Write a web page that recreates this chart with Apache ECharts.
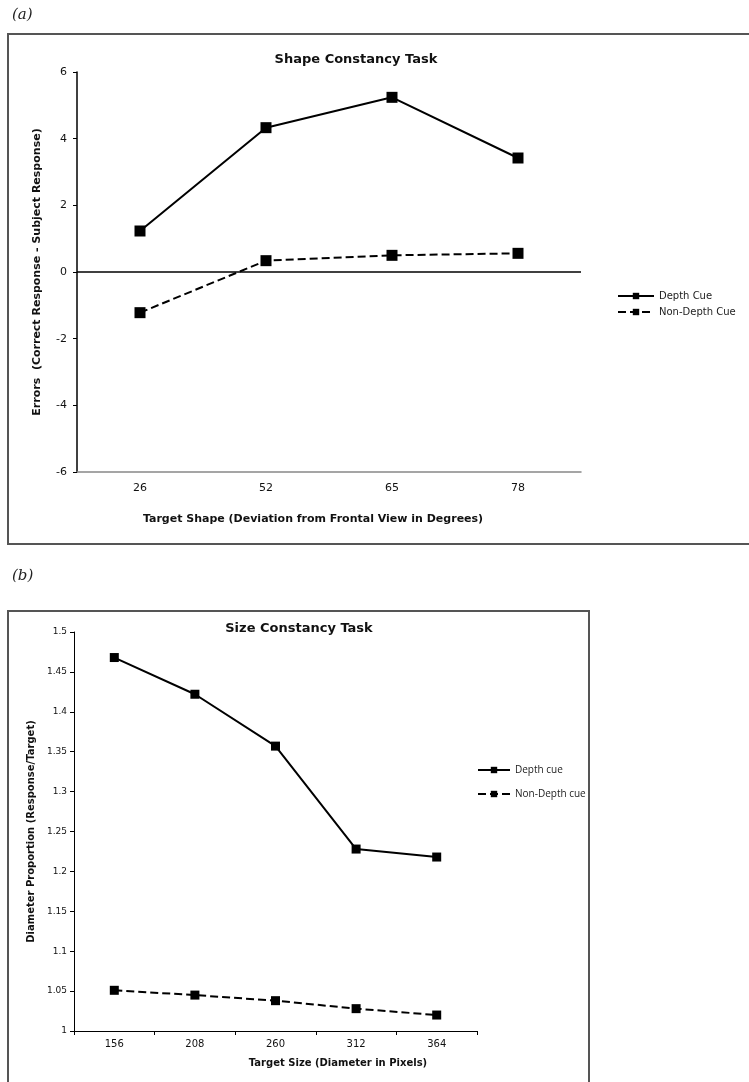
<!DOCTYPE html>
<html>
<head>
<meta charset="utf-8">
<script src="https://cdn.jsdelivr.net/npm/echarts@6/dist/echarts.min.js"></script>
<style>
  html, body { margin: 0; padding: 0; background: #fff; }
  #main { width: 749px; height: 1082px; }
</style>
</head>
<body>
<div id="main"></div>
<script>
// panel (a): shape constancy
var shapeCats = ['26', '52', '65', '78'];
var shapeDepth = [1.23, 4.33, 5.24, 3.42];
var shapeNonDepth = [-1.22, 0.34, 0.50, 0.56];

// panel (b): size constancy
var sizeCats = ['156', '208', '260', '312', '364'];
var sizeDepth = [1.468, 1.422, 1.357, 1.228, 1.218];
var sizeNonDepth = [1.051, 1.045, 1.038, 1.028, 1.020];

var myChart = echarts.init(document.getElementById('main'));

var font = 'DejaVu Sans, Verdana, sans-serif';

function lineSeries(name, data, axis, dashed, symSize, width) {
    return {
        name: name,
        type: 'line',
        xAxisIndex: axis,
        yAxisIndex: axis,
        data: data,
        symbol: 'rect',
        symbolSize: symSize,
        showAllSymbol: true,
        silent: true,
        itemStyle: { color: '#000' },
        lineStyle: { color: '#000', width: width, type: dashed ? [8, 4] : 'solid' }
    };
}

var option = {
    animation: false,
    backgroundColor: '#fff',
    grid: [
        { left: 77, right: 168, top: 72, bottom: 610 },
        { left: 74, right: 272, top: 632, bottom: 51 }
    ],
    legend: [
        {
            data: ['Depth Cue', 'Non-Depth Cue'],
            orient: 'vertical',
            left: 612, top: 286,
            itemWidth: 36, itemHeight: 8, itemGap: 6,
            textStyle: { fontFamily: font, fontSize: 10, color: '#222' }
        },
        {
            data: ['Depth cue', 'Non-Depth cue'],
            orient: 'vertical',
            left: 472, top: 760,
            itemWidth: 32, itemHeight: 8, itemGap: 14,
            textStyle: { fontFamily: 'Open Sans, sans-serif', fontSize: 10, color: '#222' }
        }
    ],
    xAxis: [
        {
            gridIndex: 0,
            type: 'category',
            data: shapeCats,
            axisLine: { onZero: false, lineStyle: { color: '#888', width: 1.5 } },
            axisTick: { show: false },
            axisLabel: { color: '#111', fontFamily: font, fontSize: 11, margin: 11 }
        },
        {
            gridIndex: 1,
            type: 'category',
            data: sizeCats,
            axisLine: { lineStyle: { color: '#000', width: 1 } },
            axisTick: { show: true, length: 4, lineStyle: { color: '#000' } },
            axisLabel: { color: '#111', fontFamily: font, fontSize: 10, margin: 8 }
        }
    ],
    yAxis: [
        {
            gridIndex: 0,
            type: 'value',
            min: -6, max: 6, interval: 2,
            name: 'Errors  (Correct Response - Subject Response)',
            nameLocation: 'middle',
            nameGap: 34,
            nameTextStyle: { fontFamily: font, fontWeight: 'bold', fontSize: 11, color: '#111' },
            axisLine: { show: true, lineStyle: { color: '#000', width: 1.5 } },
            axisTick: { show: true, length: 4, lineStyle: { color: '#000' } },
            axisLabel: { color: '#111', fontFamily: font, fontSize: 11, margin: 10 },
            splitLine: { show: false }
        },
        {
            gridIndex: 1,
            type: 'value',
            min: 1, max: 1.5, interval: 0.05,
            name: 'Diameter Proportion (Response/Target)',
            nameLocation: 'middle',
            nameGap: 37,
            nameTextStyle: { fontFamily: font, fontWeight: 'bold', fontSize: 10, color: '#111' },
            axisLine: { show: true, lineStyle: { color: '#000', width: 1 } },
            axisTick: { show: true, length: 4, lineStyle: { color: '#000' } },
            axisLabel: { color: '#111', fontFamily: font, fontSize: 9, margin: 7 },
            splitLine: { show: false }
        }
    ],
    series: [
        (function () {
            var s = lineSeries('Depth Cue', shapeDepth, 0, false, 11, 2);
            s.markLine = {
                silent: true,
                symbol: 'none',
                label: { show: false },
                lineStyle: { color: '#000', width: 1.5, type: 'solid' },
                data: [{ yAxis: 0 }]
            };
            return s;
        })(),
        lineSeries('Non-Depth Cue', shapeNonDepth, 0, true, 11, 2),
        lineSeries('Depth cue', sizeDepth, 1, false, 9, 2),
        lineSeries('Non-Depth cue', sizeNonDepth, 1, true, 9, 2)
    ],
    graphic: [
        // panel frames
        { type: 'rect', silent: true, shape: { x: 8, y: 34, width: 760, height: 510 },
          style: { fill: null, stroke: '#555', lineWidth: 2 } },
        { type: 'rect', silent: true, shape: { x: 8, y: 611, width: 581, height: 520 },
          style: { fill: null, stroke: '#555', lineWidth: 2 } },
        // panel letters
        { type: 'text', x: 12, y: 8, silent: true,
          style: { text: '(a)', font: 'italic 15px DejaVu Serif, serif', fill: '#222' } },
        { type: 'text', x: 12, y: 569, silent: true,
          style: { text: '(b)', font: 'italic 15px DejaVu Serif, serif', fill: '#222' } },
        // chart titles
        { type: 'text', x: 356, y: 60, silent: true,
          style: { text: 'Shape Constancy Task', font: 'bold 13px DejaVu Sans, sans-serif',
                   fill: '#111', align: 'center', verticalAlign: 'middle' } },
        { type: 'text', x: 299, y: 629, silent: true,
          style: { text: 'Size Constancy Task', font: 'bold 13px DejaVu Sans, sans-serif',
                   fill: '#111', align: 'center', verticalAlign: 'middle' } },
        // x axis titles
        { type: 'text', x: 313, y: 519, silent: true,
          style: { text: 'Target Shape (Deviation from Frontal View in Degrees)',
                   font: 'bold 11px DejaVu Sans, sans-serif', fill: '#111',
                   align: 'center', verticalAlign: 'middle' } },
        { type: 'text', x: 338, y: 1063, silent: true,
          style: { text: 'Target Size (Diameter in Pixels)',
                   font: 'bold 10px DejaVu Sans, sans-serif', fill: '#111',
                   align: 'center', verticalAlign: 'middle' } }
    ]
};

myChart.setOption(option);
</script>
</body>
</html>
